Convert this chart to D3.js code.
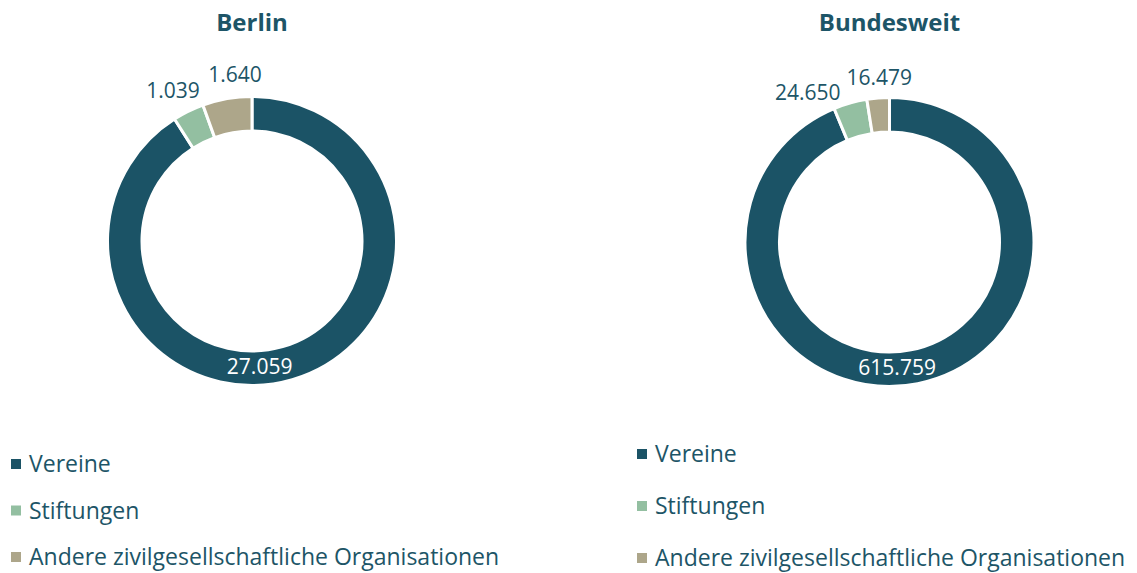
<!DOCTYPE html>
<html>
<head>
<meta charset="utf-8">
<script src="https://cdn.jsdelivr.net/npm/d3@7"></script>
<style>
  html, body { margin: 0; padding: 0; background: #fff; }
  svg { display: block; font-family: "Open Sans", Lato, sans-serif; }
</style>
</head>
<body>
<svg id="chart"></svg>
<script>
// Rechtsformen der Zivilgesellschaft - Berlin vs. bundesweit

const categories = ["Vereine", "Stiftungen", "Andere zivilgesellschaftliche Organisationen"]
const chartTitles = ["Berlin", "Bundesweit"]
const berlinValues = [27059, 1039, 1640]
const bundesweitValues = [615759, 24650, 16479]

const colors = ["#1b5366", "#93bfa1", "#ada68a"]
const textColor = "#1d5567"

let svgWidth = 1137
let svgHeight = 573

// Layout der beiden Donuts
const panels = [
    { title: chartTitles[0], values: berlinValues, cx: 252, cy: 241,
      // Verschiebung der Beschriftungen (wie im Original manuell platziert)
      nudge: [[0, 0], [-5, 0], [12, -1.5]],
      legend: { x: 11, y: 472, step: 46.5 } },
    { title: chartTitles[1], values: bundesweitValues, cx: 889.5, cy: 242,
      nudge: [[0, 0], [-36, 12], [3, 2.5]],
      legend: { x: 637, y: 462, step: 52 } }
]

const outerR = 144.5
const innerR = 110
const labelR = 168

const de = d3.formatLocale({ decimal: ",", thousands: ".", grouping: [3], currency: ["", " €"] })
const fmt = de.format(",d")

const svg = d3.select("#chart")
    .attr("width", svgWidth)
    .attr("height", svgHeight)

svg.append("rect")
    .attr("width", svgWidth)
    .attr("height", svgHeight)
    .attr("fill", "#fff")

const pie = d3.pie().sort(null).value(d => d.value)
const arc = d3.arc().innerRadius(innerR).outerRadius(outerR)
const labelArc = d3.arc().innerRadius(labelR).outerRadius(labelR)

panels.forEach(p => {
    const data = categories.map((c, i) => ({ key: c, value: p.values[i], i: i }))
    const arcs = pie(data)

    // Titel
    svg.append("text")
        .attr("x", p.cx)
        .attr("y", 31)
        .attr("text-anchor", "middle")
        .style("font-size", "24px")
        .style("font-weight", "bold")
        .style("fill", textColor)
        .text(p.title)

    const g = svg.append("g")
        .attr("transform", `translate(${p.cx}, ${p.cy})`)

    g.selectAll("path")
        .data(arcs)
        .enter()
        .append("path")
        .attr("d", arc)
        .attr("fill", d => colors[d.data.i])
        .attr("stroke", "#fff")
        .attr("stroke-width", 3)

    // Beschriftungen: grosses Segment im Ring, kleine aussen
    g.selectAll("text.value")
        .data(arcs)
        .enter()
        .append("text")
        .attr("class", "value")
        .attr("transform", d => {
            let c = labelArc.centroid(d)
            let n = p.nudge[d.data.i]
            if (d.data.i == 0) {
                // im Ring, unten leicht rechts der Mitte wie im Original
                let a = Math.PI - 0.06
                let r = (innerR + outerR) / 2
                c = [r * Math.sin(a), -r * Math.cos(a) - 2]
            }
            return `translate(${c[0] + n[0]}, ${c[1] + n[1]})`
        })
        .attr("text-anchor", "middle")
        .attr("dominant-baseline", "central")
        .style("font-size", "21px")
        .style("fill", d => d.data.i == 0 ? "#fff" : textColor)
        .text(d => fmt(d.data.value))

    // Legende
    const legend = svg.append("g")
        .selectAll(".legend")
        .data(categories)
        .enter()
        .append("g")
        .attr("class", "legend")
        .attr("transform", (d, i) => `translate(${p.legend.x}, ${p.legend.y + i * p.legend.step})`)

    legend.append("rect")
        .attr("x", 0)
        .attr("y", -13)
        .attr("width", 10)
        .attr("height", 10)
        .style("fill", (d, i) => colors[i])

    legend.append("text")
        .attr("x", 18)
        .attr("y", 0)
        .style("font-size", "23px")
        .style("fill", textColor)
        .text(d => d)
})
</script>
</body>
</html>
